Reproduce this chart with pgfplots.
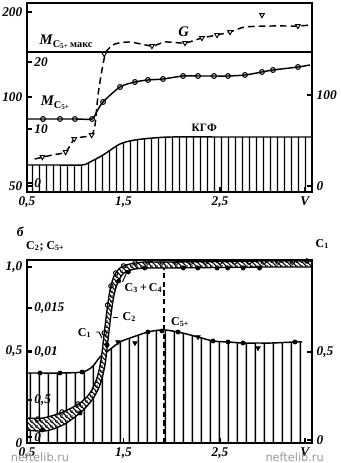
\documentclass[border=0pt]{standalone}
\usepackage{fontspec}
\setmainfont{Liberation Serif}
\newfontfamily\wmfont{DejaVu Sans}
\usepackage{pgfplots}
\pgfplotsset{compat=1.18}
\usetikzlibrary{patterns.meta}

\tikzdeclarepattern{name=vlinesA, type=uncolored,
  bounding box={(0,0) and (5.6pt,2pt)}, tile size={(5.6pt,2pt)},
  code={\draw[line width=1.1pt] (2.8pt,-1pt) -- (2.8pt,3pt);}}
\tikzdeclarepattern{name=vlinesB, type=uncolored,
  bounding box={(0,0) and (6.6pt,2pt)}, tile size={(6.6pt,2pt)},
  code={\draw[line width=1.2pt] (3.3pt,-1pt) -- (3.3pt,3pt);}}
\tikzdeclarepattern{name=dlines, type=uncolored,
  bounding box={(0,0) and (3.4pt,3.4pt)}, tile size={(3.4pt,3.4pt)},
  code={\draw[line width=1pt] (-0.6pt,4pt) -- (4pt,-0.6pt);
        \draw[line width=1pt] (-0.6pt,0.6pt) -- (0.6pt,-0.6pt);
        \draw[line width=1pt] (2.8pt,4pt) -- (4pt,2.8pt);}}

\tikzset{lbl/.style={font=\fontsize{9}{9}\selectfont\bfseries}}
\pgfplotsset{
  common/.style={
    scale only axis, width=213.75pt,
    xmin=0.5, xmax=3.4534,
    axis line style={line width=1.1pt},
    tick align=inside, major tick length=3.5pt,
    every tick/.style={line width=0.9pt},
    ticklabel style={font=\fontsize{10}{10}\selectfont\bfseries\itshape},
    clip=false,
  },
}

\begin{document}
\begin{tikzpicture}
\useasboundingbox (0,0) rectangle (255pt,347.25pt);

% ================= TOP PANEL =================
\begin{axis}[common,
  height=141.75pt, at={(20.25pt,203.25pt)}, anchor=south west,
  ymin=0, ymax=189,
  xtick={0.5,1.5,2.5,3.38}, xticklabels={{0,5},{1,5},{2,5},V},
  xtick pos=bottom, ytick pos=left,
  ytick={6,95,180}, yticklabels={50,100,200},
  extra y ticks={9,63,130}, extra y tick labels={0,10,20},
  extra y tick style={yticklabel style={anchor=west,xshift=2pt}},
]
% KGF hatched area
\addplot[draw=none, pattern=vlinesA, smooth, tension=0.5] coordinates {
 (0.5,27)(0.8,27)(1.070,27)(1.153,30)(1.288,37)(1.464,48)(1.619,52)(1.806,54)(2.0,55)(2.5,55)(3.0,55)(3.4534,55)} \closedcycle;
\addplot[line width=1.1pt, smooth, tension=0.5] coordinates {
 (0.5,27)(0.8,27)(1.070,27)(1.153,30)(1.288,37)(1.464,48)(1.619,52)(1.806,54)(2.0,55)(2.5,55)(3.0,55)(3.4534,55)};
% M_C5+ max line
\addplot[line width=1.4pt] coordinates {(0.5,140)(3.4534,140)};
% M_C5+ curve
\addplot[line width=1.1pt, smooth, tension=0.45] coordinates {
 (0.5,73)(0.666,73)(0.842,73)(0.997,73)(1.174,73)(1.215,79)(1.288,90)(1.464,105)(1.619,110)(1.754,112)(1.909,113)(2.117,116)(2.272,116)(2.438,116)(2.583,116)(2.759,117)(2.935,120)(3.049,122)(3.308,125)(3.433,127)};
\addplot[only marks, mark=o, mark size=1.8pt, mark options={fill=white, line width=0.8pt}] coordinates {
 (0.666,73)(0.842,73)(0.997,73)(1.174,73)(1.288,90)(1.464,105)(1.619,110)(1.754,112)(1.909,113)(2.117,116)(2.272,116)(2.438,116)(2.583,116)(2.759,117)(2.935,120)(3.049,122)(3.308,125)};
% G dashed curve
\addplot[line width=1.1pt, dash pattern=on 5pt off 3pt, smooth, tension=0.4] coordinates {
 (0.58,33)(0.76,37)(0.90,40)(0.99,53)(1.08,55)(1.17,57)(1.205,67)(1.236,97)(1.277,122)(1.319,140)(1.412,148)(1.567,150)(1.795,146)(1.930,150)(2.137,149)(2.313,154)(2.469,157)(2.604,160)(2.759,165)(3.039,166)(3.308,166)(3.433,167)};
\addplot[only marks, mark=triangle*, mark size=2pt, mark options={rotate=180, fill=white, line width=0.7pt}] coordinates {
 (0.66,35)(0.90,40)(0.99,53)(1.17,57)(1.30,138)(1.795,146)(2.137,149)(2.313,154)(2.469,157)(2.604,160)(2.935,177)(3.308,166)};
% labels
\node[anchor=base west, font=\fontsize{11}{11}\selectfont] at (axis cs:0.583,147)
  {\bfseries\itshape M\textsubscript{\upshape C\textsubscript{5+}\,макс}};
\node[anchor=base west, font=\fontsize{11}{11}\selectfont] at (axis cs:0.595,86)
  {\bfseries\itshape M\textsubscript{\upshape C\textsubscript{5+}}};
\node[anchor=base west, font=\fontsize{11}{11}\selectfont\bfseries\itshape] at (axis cs:2.02,155) {G};
\node[anchor=base west, font=\fontsize{8.5}{8.5}\selectfont\bfseries] at (axis cs:2.158,60) {КГФ};
\end{axis}
\begin{axis}[common,
  height=141.75pt, at={(20.25pt,203.25pt)}, anchor=south west,
  ymin=0, ymax=189,
  axis y line*=right, axis x line=none,
  ytick={6,97}, yticklabels={0,100},
]
\addplot[draw=none] coordinates {(1,50)};
\end{axis}

% ================= BOTTOM PANEL =================
\begin{axis}[common,
  height=137.25pt, at={(20.25pt,15pt)}, anchor=south west,
  ymin=0, ymax=183,
  xtick={0.5,1.5,2.5,3.38}, xticklabels={{0,5},{1,5},{2,5},V},
  xtick pos=bottom, ytick pos=left,
  ytick={0,92,176}, yticklabels={0,{0,5},{1,0}},
  extra y ticks={6,43,91,135}, extra y tick labels={0,{0,5},{0,01},{0,015}},
  extra y tick style={yticklabel style={anchor=west,xshift=2pt}},
  axis on top,
]
% C5+ hatched area
\addplot[draw=none, pattern=vlinesB, smooth, tension=0.5] coordinates {
 (0.5,70)(0.635,70)(0.842,70)(1.070,71)(1.174,76)(1.256,86)(1.339,92)(1.464,101)(1.598,106)(1.754,111)(1.878,113)(1.930,113)(2.065,111)(2.272,106)(2.427,102)(2.583,101)(2.738,100)(2.894,100)(3.039,100)(3.277,101)(3.35,101)} \closedcycle;
\addplot[line width=1.1pt, smooth, tension=0.5] coordinates {
 (0.5,70)(0.635,70)(0.842,70)(1.070,71)(1.174,76)(1.256,86)(1.339,92)(1.464,101)(1.598,106)(1.754,111)(1.878,113)(1.930,113)(2.065,111)(2.272,106)(2.427,102)(2.583,101)(2.738,100)(2.894,100)(3.039,100)(3.277,101)(3.35,101)};
% band C2 / C3+C4 (closed region: upper edge forward, lower edge back)
\addplot[fill=white, draw=none, smooth, tension=0.5] coordinates {
 (0.5,25)(0.666,25)(0.873,31)(1.049,40)(1.153,50)(1.225,65)(1.267,83)(1.298,108)(1.329,133)(1.360,153)(1.402,167)(1.464,175)(1.567,179)(1.723,181)(1.930,181)(2.5,181.5)(3.0,182)(3.42,182)(3.453,182)
 (3.453,176)(3.42,176)(3.0,176)(2.5,175.5)(1.930,175)(1.775,175)(1.619,174)(1.505,170)(1.443,161)(1.402,148)(1.370,128)(1.339,103)(1.308,78)(1.256,58)(1.174,43)(1.049,30)(0.873,18)(0.687,12)(0.5,13)} -- cycle;
\addplot[pattern=dlines, draw=none, smooth, tension=0.5] coordinates {
 (0.5,25)(0.666,25)(0.873,31)(1.049,40)(1.153,50)(1.225,65)(1.267,83)(1.298,108)(1.329,133)(1.360,153)(1.402,167)(1.464,175)(1.567,179)(1.723,181)(1.930,181)(2.5,181.5)(3.0,182)(3.42,182)(3.453,182)
 (3.453,176)(3.42,176)(3.0,176)(2.5,175.5)(1.930,175)(1.775,175)(1.619,174)(1.505,170)(1.443,161)(1.402,148)(1.370,128)(1.339,103)(1.308,78)(1.256,58)(1.174,43)(1.049,30)(0.873,18)(0.687,12)(0.5,13)} -- cycle;
\addplot[line width=1pt, smooth, tension=0.5] coordinates {
 (0.5,25)(0.666,25)(0.873,31)(1.049,40)(1.153,50)(1.225,65)(1.267,83)(1.298,108)(1.329,133)(1.360,153)(1.402,167)(1.464,175)(1.567,179)(1.723,181)(1.930,181)(2.5,181.5)(3.0,182)(3.453,182)};
\addplot[line width=1pt, smooth, tension=0.5] coordinates {
 (0.5,13)(0.687,12)(0.873,18)(1.049,30)(1.174,43)(1.256,58)(1.308,78)(1.339,103)(1.370,128)(1.402,148)(1.443,161)(1.505,170)(1.619,174)(1.775,175)(1.930,175)(2.5,175.5)(3.0,176)(3.453,176)};
% markers
\addplot[only marks, mark=o, mark size=1.7pt, mark options={fill=white, line width=0.7pt}] coordinates {
 (0.614,24)(0.863,31)(1.029,39)(1.30,110)(1.335,138)(1.37,157)(1.42,170)(1.50,177)(1.62,180)(1.75,181)(1.90,181)(2.05,181)(2.20,181)(2.35,181)(2.50,181)(2.65,181)(2.80,181)(2.95,181)(3.10,181)(3.25,181)(3.40,182)};
\addplot[only marks, mark=*, mark size=1.6pt] coordinates {
 (0.66,13)(1.05,30)(1.33,98)(1.45,162)(1.55,171)(1.72,175)(2.12,175)(2.27,175)(2.47,175)(2.58,175)(2.74,175)(2.91,175)};
\addplot[only marks, mark=*, mark size=1.6pt] coordinates {
 (0.635,70)(0.842,70)(1.070,71)(1.754,111)(1.898,112)(2.065,111)(2.427,102)(2.583,101)(2.738,100)(3.277,101)};
\addplot[only marks, mark=triangle*, mark size=2pt, mark options={rotate=180}] coordinates {
 (1.443,101)(1.619,100)(2.272,106)(2.894,95)};
% dashed vertical
\addplot[line width=0.9pt, dash pattern=on 4pt off 2.5pt] coordinates {(1.92,0)(1.92,175)};
% labels
\node[lbl, anchor=east] at (axis cs:1.215,110) {C\textsubscript{1}};
\draw[line width=0.7pt] (axis cs:1.215,111) -- (axis cs:1.246,111) -- (axis cs:1.277,105);
\node[lbl, anchor=west] at (axis cs:1.443,126) {C\textsubscript{2}};
\draw[line width=0.7pt] (axis cs:1.39,126) -- (axis cs:1.445,126);
\node[lbl, anchor=west] at (axis cs:1.464,155) {C\textsubscript{3}\,+\,C\textsubscript{4}};
\draw[line width=0.7pt] (axis cs:1.49,161) -- (axis cs:1.53,170);
\node[lbl, anchor=west] at (axis cs:1.945,121) {C\textsubscript{5+}};
\node[lbl] at (axis cs:0.69,197) {C\textsubscript{2}; C\textsubscript{5+}};
\node[lbl] at (axis cs:3.56,199) {C\textsubscript{1}};
\node[font=\fontsize{10}{10}\selectfont\bfseries\itshape] at (axis cs:0.43,211) {б};
\end{axis}
\begin{axis}[common,
  height=137.25pt, at={(20.25pt,15pt)}, anchor=south west,
  ymin=0, ymax=183,
  axis y line*=right, axis x line=none,
  ytick={3,91}, yticklabels={0,{0,5}},
]
\addplot[draw=none] coordinates {(1,50)};
\end{axis}

% watermark (as in the scan)
\node[text=black!40, font=\wmfont\fontsize{8.5}{8.5}\selectfont, anchor=base] at (30pt,1.5pt) {neftelib.ru};
\node[text=black!40, font=\wmfont\fontsize{8.5}{8.5}\selectfont, anchor=base] at (221pt,1.5pt) {neftelib.ru};
\end{tikzpicture}
\end{document}
